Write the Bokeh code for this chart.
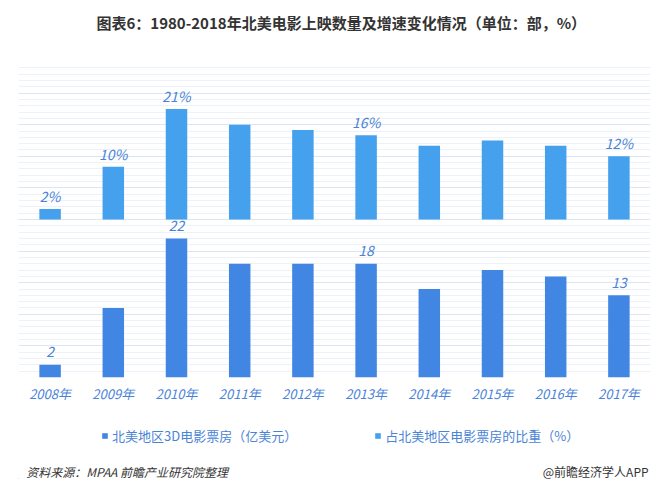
from bokeh.plotting import figure
from bokeh.layouts import column
from bokeh.models import (Range1d, Grid, SingleIntervalTicker, Label, Legend,
                          LegendItem, ColumnDataSource)
from bokeh.core.properties import value
from bokeh.embed import file_html
from bokeh.resources import INLINE

# ---- data ----
years = ["2008年", "2009年", "2010年", "2011年", "2012年",
         "2013年", "2014年", "2015年", "2016年", "2017年"]
box_3d = [2, 11, 22, 18, 18, 18, 14, 17, 16, 13]          # 亿美元
share_pct = [2, 10, 21, 18, 17, 16, 14, 15, 14, 12]      # %
box_labeled_years = ["2008年", "2010年", "2013年", "2017年"]
pct_labeled_years = ["2008年", "2009年", "2010年", "2013年", "2017年"]

title_text = "图表6：1980-2018年北美电影上映数量及增速变化情况（单位：部，%）"
legend_box = "北美地区3D电影票房（亿美元）"
legend_pct = "占北美地区电影票房的比重（%）"
source_text = "资料来源：MPAA 前瞻产业研究院整理"
brand_text = "@前瞻经济学人APP"

FONT = "Noto Sans CJK SC"
C_BOX = "#4286E3"
C_PCT = "#45A0EE"
C_TEXT_BLUE = "#4a84d6"
W = 654

src = ColumnDataSource(dict(
    year=years,
    box=box_3d,
    pct=share_pct,
    box_text=[str(v) if y in box_labeled_years else "" for y, v in zip(years, box_3d)],
    pct_text=[f"{v}%" if y in pct_labeled_years else "" for y, v in zip(years, share_pct)],
))


def strip(height):
    f = figure(width=W, height=height, output_backend="svg", toolbar_location=None,
               x_axis_location=None, y_axis_location=None,
               x_range=Range1d(0, W), y_range=Range1d(0, height),
               min_border=0, outline_line_color=None,
               background_fill_color="white", border_fill_color="white")
    f.xgrid.visible = False
    f.ygrid.visible = False
    return f


# ---------------- title strip ----------------
t = strip(40)
t.add_layout(Label(x=334, y=18, text=title_text, text_align="center",
                   text_baseline="middle", text_font=FONT,
                   text_font_style="bold", text_font_size="15px",
                   text_color="#333333"))

# ---------------- main chart ----------------
p = figure(x_range=years, width=W, height=370, output_backend="svg",
           toolbar_location=None, y_axis_location=None,
           min_border_left=18, min_border_right=4,
           min_border_top=21, min_border_bottom=33,
           outline_line_color=None, background_fill_color="white",
           border_fill_color="white")
p.y_range = Range1d(0, 50)
p.extra_y_ranges = {"pct": Range1d(-30, 30)}

p.xgrid.visible = False
p.ygrid.visible = False
grid = Grid(dimension=1, ticker=SingleIntervalTicker(interval=5, num_minor_ticks=5),
            grid_line_color="#dbe5f4", grid_line_width=1,
            minor_grid_line_color="#edf2fa", minor_grid_line_width=1,
            level="underlay")
p.add_layout(grid)

p.vbar(x="year", top="box", bottom=0, width=0.34, source=src,
       fill_color=C_BOX, line_color=None)
p.vbar(x="year", top="pct", bottom=0, width=0.34, source=src,
       fill_color=C_PCT, line_color=None, y_range_name="pct")

p.text(x="year", y="box", text="box_text", source=src, y_offset=-13,
       text_align="center", text_baseline="middle", text_font=value(FONT),
       text_font_style="italic", text_font_size="14px", text_color=C_TEXT_BLUE)
p.text(x="year", y="pct", text="pct_text", source=src, y_offset=-13,
       text_align="center", text_baseline="middle", text_font=value(FONT),
       text_font_style="italic", text_font_size="14px", text_color=C_TEXT_BLUE,
       y_range_name="pct")

ax = p.xaxis[0]
ax.axis_line_color = None
ax.major_tick_line_color = None
ax.minor_tick_line_color = None
ax.major_tick_out = 0
ax.major_label_standoff = 6
ax.major_label_text_font = FONT
ax.major_label_text_font_style = "italic"
ax.major_label_text_font_size = "13px"
ax.major_label_text_color = C_TEXT_BLUE

# ---------------- legend + footer strip ----------------
q = strip(69)
k_box = q.vbar(x=[-100], top=[1], width=1, fill_color=C_BOX, line_color=None)
k_pct = q.vbar(x=[-100], top=[1], width=1, fill_color=C_PCT, line_color=None)

legend = Legend(items=[LegendItem(label=legend_box, renderers=[k_box]),
                       LegendItem(label=legend_pct, renderers=[k_pct])],
                orientation="horizontal", location=(83, 34),
                glyph_width=7, glyph_height=7, label_standoff=4, spacing=77,
                padding=0, margin=0, border_line_color=None,
                background_fill_alpha=0, label_text_font=FONT,
                label_text_font_size="13px", label_text_color=C_TEXT_BLUE,
                label_height=16)
q.add_layout(legend, "center")

q.add_layout(Label(x=8, y=8, text=source_text, text_align="left",
                   text_baseline="middle", text_font=FONT,
                   text_font_style="italic", text_font_size="12px",
                   text_color="#333333"))
q.add_layout(Label(x=652, y=8, text=brand_text, text_align="right",
                   text_baseline="middle", text_font=FONT,
                   text_font_size="12px", text_color="#333333"))

layout = column(t, p, q, spacing=0)
open("out.html", "w").write(file_html(layout, INLINE))
